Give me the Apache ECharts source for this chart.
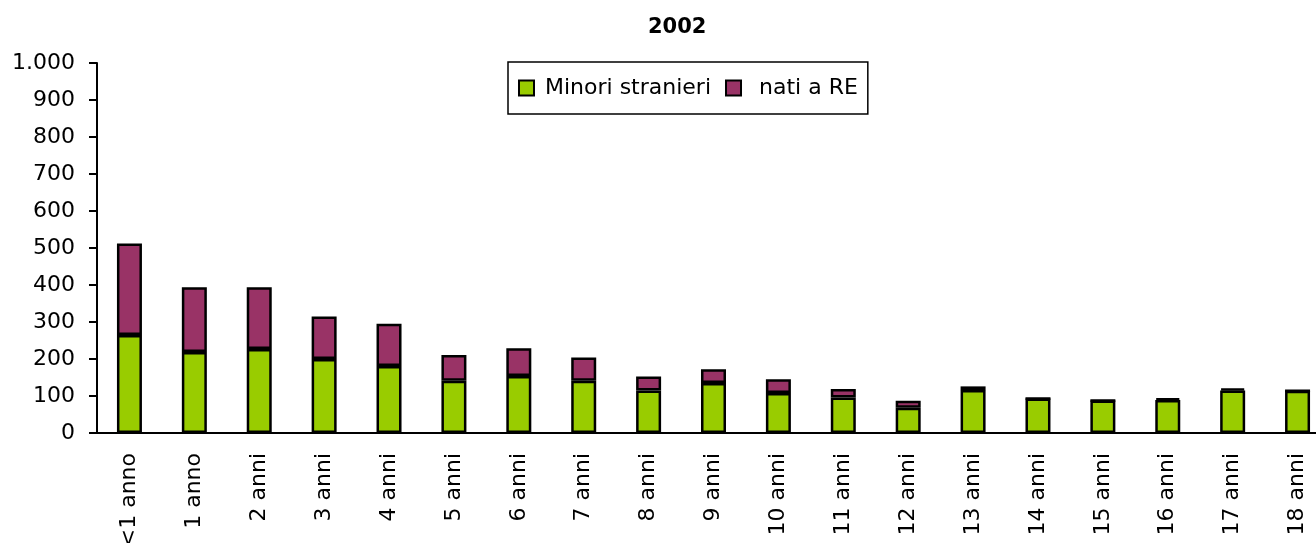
<!DOCTYPE html>
<html>
<head>
<meta charset="utf-8">
<script src="https://cdn.jsdelivr.net/npm/echarts@6/dist/echarts.min.js"></script>
<style>
  html, body { margin: 0; padding: 0; background: #fff; }
  #main { width: 1316px; height: 543px; }
</style>
</head>
<body>
<div id="main"></div>
<script>
// età dei minori (asse x)
const categorie = ['<1 anno', '1 anno', '2 anni', '3 anni', '4 anni', '5 anni', '6 anni', '7 anni', '8 anni',
  '9 anni', '10 anni', '11 anni', '12 anni', '13 anni', '14 anni', '15 anni', '16 anni', '17 anni', '18 anni'];
// valori
const minoriStranieri = [265, 219, 227, 200, 181, 141, 154, 141, 115, 135, 108, 96, 68, 116, 93, 88, 89, 115, 114];
const natiRE = [247, 175, 167, 115, 114, 70, 75, 63, 38, 37, 37, 23, 19, 10, 0, 0, 5, 5, 0];
const yTicks = { min: 0, max: 1000, step: 100 };

const font = 'DejaVu Sans';
let myChart = echarts.init(document.getElementById('main'));

let option = {
  backgroundColor: '#fff',
  animation: false,
  title: {
    text: '2002',
    left: 643,
    top: 12,
    textStyle: { fontFamily: font, fontSize: 21, fontWeight: 'bold', color: '#000' }
  },
  legend: {
    left: 508,
    top: 62,
    padding: [15, 10, 15, 10],
    borderColor: '#000',
    borderWidth: 1.5,
    icon: 'rect',
    itemWidth: 15,
    itemHeight: 15,
    itemGap: 14,
    formatter: function (name) {
      return name === 'nati a RE' ? ' ' + name : name;
    },
    textStyle: { fontFamily: font, fontSize: 22, color: '#000', padding: [0, 0, 0, 6] },
    data: ['Minori stranieri', 'nati a RE']
  },
  grid: {
    left: 97,
    top: 63,
    bottom: 110,
    right: -14,
    containLabel: false,
    outerBoundsMode: 'none'
  },
  xAxis: {
    type: 'category',
    data: categorie,
    axisLine: { lineStyle: { color: '#000', width: 2 } },
    axisTick: { length: 8, lineStyle: { color: '#000', width: 2 } },
    axisLabel: {
      rotate: 90,
      interval: 0,
      margin: 20,
      fontFamily: font,
      fontSize: 22,
      color: '#000'
    }
  },
  yAxis: {
    type: 'value',
    min: yTicks.min,
    max: yTicks.max,
    interval: yTicks.step,
    splitLine: { show: false },
    axisLine: { show: true, lineStyle: { color: '#000', width: 2 } },
    axisTick: { show: true, length: 8, lineStyle: { color: '#000', width: 2 } },
    axisLabel: {
      margin: 22,
      fontFamily: font,
      fontSize: 22,
      color: '#000',
      formatter: function (v) {
        return v >= 1000 ? Math.floor(v / 1000) + '.' + String(v % 1000).padStart(3, '0') : String(v);
      }
    }
  },
  series: [
    {
      name: 'Minori stranieri',
      type: 'bar',
      stack: 'tot',
      barWidth: 25,
      data: minoriStranieri,
      itemStyle: { color: '#99CC00', borderColor: '#000', borderWidth: 2.5 }
    },
    {
      name: 'nati a RE',
      type: 'bar',
      stack: 'tot',
      barWidth: 25,
      data: natiRE,
      itemStyle: { color: '#993366', borderColor: '#000', borderWidth: 2.5 }
    }
  ]
};

myChart.setOption(option);
</script>
</body>
</html>
